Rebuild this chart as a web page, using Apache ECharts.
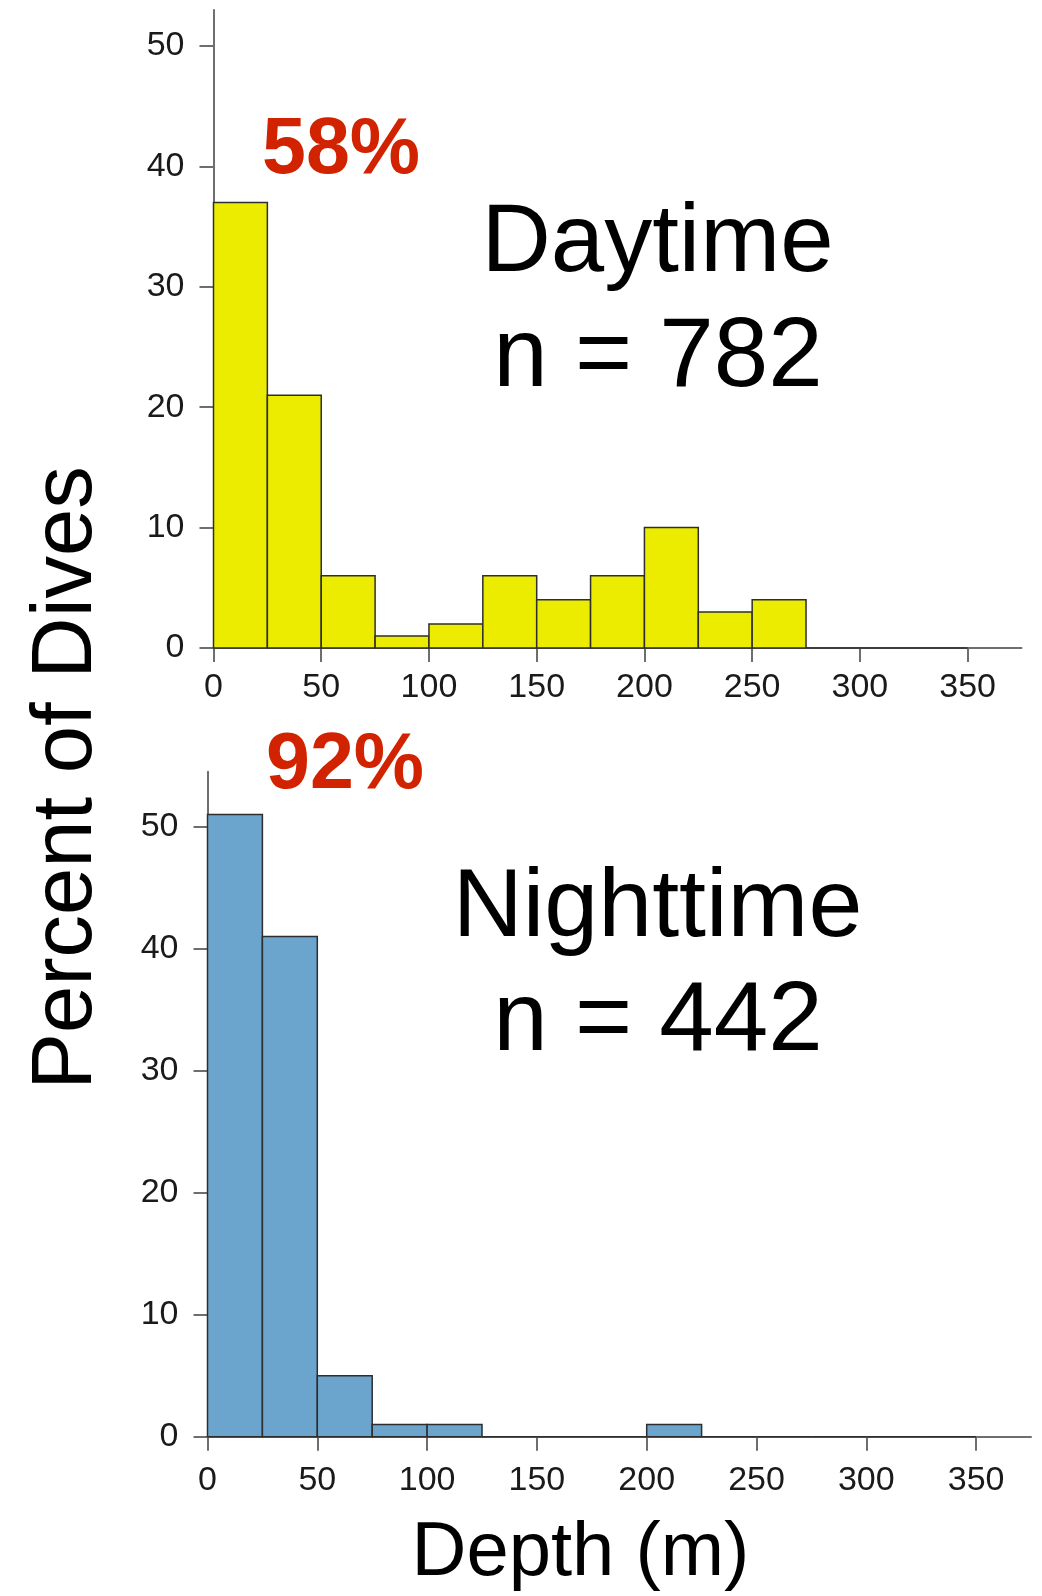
<!DOCTYPE html>
<html>
<head>
<meta charset="utf-8">
<style>html,body{margin:0;padding:0;background:#fff}#c{width:1042px;height:1596px}</style>
<script src="https://cdn.jsdelivr.net/npm/echarts@6/dist/echarts.min.js"></script>
</head>
<body>
<div id="c"></div>
<script>
// Data
var binStarts = [0, 25, 50, 75, 100, 125, 150, 175, 200, 225, 250, 275, 300, 325];
var binWidth = 25;
var dayPercent = [37, 21, 6, 1, 2, 6, 4, 6, 10, 3, 4, 0, 0, 0];
var nightPercent = [51, 41, 5, 1, 1, 0, 0, 0, 1, 0, 0, 0, 0, 0];
var xTicks = [0, 50, 100, 150, 200, 250, 300, 350];
var yTicks = [0, 10, 20, 30, 40, 50];
var dayLabel = ['58%', 'Daytime', 'n = 782'];
var nightLabel = ['92%', 'Nighttime', 'n = 442'];
var yTitle = 'Percent of Dives';
var xTitle = 'Depth (m)';

var FONT = "'Liberation Sans', Arial, Helvetica, sans-serif";
var AXIS_COLOR = '#6e6e6e';

function toBins(vals) {
  return binStarts.map(function (s, i) { return [s, s + binWidth, vals[i]]; });
}

function renderer(fill) {
  return function (params, api) {
    var p0 = api.coord([api.value(0), 0]);
    var p1 = api.coord([api.value(1), api.value(2)]);
    return {
      type: 'rect',
      shape: { x: p0[0], y: p1[1], width: p1[0] - p0[0], height: p0[1] - p1[1] },
      style: { fill: fill, stroke: '#2e2e2e', lineWidth: 1.5 }
    };
  };
}

function xAxisCfg(gi, margin) {
  return {
    type: 'value', gridIndex: gi, min: 0, max: 375,
    splitLine: { show: false },
    axisLine: { show: true, onZero: false, lineStyle: { color: AXIS_COLOR, width: 2 } },
    axisTick: { show: true, length: 14, customValues: xTicks, lineStyle: { color: AXIS_COLOR, width: 2 } },
    axisLabel: { customValues: xTicks, margin: margin, fontSize: 34, color: '#1a1a1a', fontFamily: FONT }
  };
}
function yAxisCfg(gi, max) {
  return {
    type: 'value', gridIndex: gi, min: 0, max: max,
    splitLine: { show: false },
    axisLine: { show: true, onZero: false, lineStyle: { color: AXIS_COLOR, width: 2 } },
    axisTick: { show: true, length: 14, customValues: yTicks, lineStyle: { color: AXIS_COLOR, width: 2 } },
    axisLabel: { customValues: yTicks, margin: 29, fontSize: 34, color: '#1a1a1a', fontFamily: FONT }
  };
}

function txt(str, x, y, size, color, weight, rot) {
  return {
    type: 'text', x: x, y: y, rotation: rot || 0, z: 100,
    style: {
      text: str, x: 0, y: 0,
      font: (weight || 'normal') + ' ' + size + 'px ' + FONT,
      fill: color,
      textAlign: 'center', textVerticalAlign: 'middle',
      align: 'center', verticalAlign: 'middle'
    }
  };
}

var chart = echarts.init(document.getElementById('c'), null, { renderer: 'canvas' });
chart.setOption({
  backgroundColor: '#ffffff',
  animation: false,
  grid: [
    { left: 213.5, top: 10, width: 808, height: 638 },
    { left: 207.5, top: 771.7, width: 823.5, height: 665 }
  ],
  xAxis: [xAxisCfg(0, 23), xAxisCfg(1, 27)],
  yAxis: [yAxisCfg(0, 53), yAxisCfg(1, 54.5)],
  series: [
    { type: 'custom', xAxisIndex: 0, yAxisIndex: 0, renderItem: renderer('#ecec00'), data: toBins(dayPercent), encode: { x: [0, 1], y: 2 } },
    { type: 'custom', xAxisIndex: 1, yAxisIndex: 1, renderItem: renderer('#6ba4cc'), data: toBins(nightPercent), encode: { x: [0, 1], y: 2 } }
  ],
  graphic: [
    txt(dayLabel[0], 341, 151, 79, '#d22300', 'bold'),
    txt(dayLabel[1], 657.5, 245, 96, '#000'),
    txt(dayLabel[2], 658, 359, 98, '#000'),
    txt(nightLabel[0], 345, 766, 79, '#d22300', 'bold'),
    txt(nightLabel[1], 657.5, 909, 97, '#000'),
    txt(nightLabel[2], 658, 1023, 98, '#000'),
    txt(yTitle, 68, 778, 85, '#000', 'normal', Math.PI / 2),
    txt(xTitle, 580.5, 1554, 76, '#000')
  ]
});
</script>
</body>
</html>
